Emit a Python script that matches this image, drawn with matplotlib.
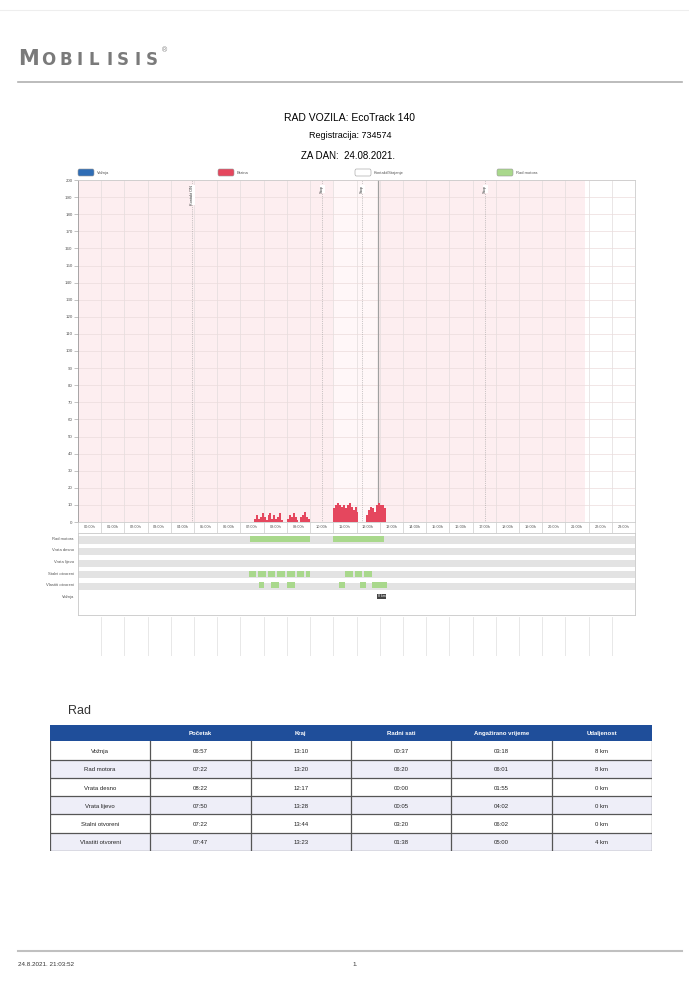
import matplotlib
matplotlib.use('Agg')
import matplotlib.pyplot as plt
from matplotlib.patches import Rectangle, FancyBboxPatch

plt.rcParams['font.family'] = ['Liberation Sans', 'DejaVu Sans']

# podaci o brzini (vrijeme, km/h)
speed_t1 = ['07:35', '07:40', '07:45', '07:50', '07:55', '08:00', '08:05', '08:10', '08:15', '08:20',
            '08:25', '08:30', '08:35', '08:40', '08:45', '08:50', '08:55', '09:00', '09:05', '09:10',
            '09:15', '09:20', '09:25', '09:30', '09:35', '09:40', '09:45', '09:50', '09:55', '10:00']
speed_v1 = [2, 4, 2, 3, 5, 3, 1, 4, 5, 2, 4, 2, 3, 5, 1, 0, 0, 2, 4, 3, 5, 3, 1, 0, 3, 4, 6, 3, 2, 0]
speed_t2 = ['11:00', '11:05', '11:10', '11:15', '11:20', '11:25', '11:30', '11:35', '11:40', '11:45',
            '11:50', '11:55', '12:00', '12:05']
speed_v2 = [8, 10, 11, 10, 9, 10, 8, 10, 11, 9, 7, 9, 6, 0]
speed_t3 = ['12:25', '12:30', '12:35', '12:40', '12:45', '12:50', '12:55', '13:00', '13:05', '13:10', '13:15']
speed_v3 = [4, 7, 9, 8, 6, 10, 11, 10, 10, 8, 0]

# oznake događaja
event_times = ['04:55', '10:31', '12:15', '17:33']
event_labels = ['Kontakt ON', 'Stop', 'Stop', 'Stop']
current_time = '12:56'
data_end = '21:50'

y_ticks = list(range(0, 201, 10))
hours = list(range(24))

# digitalni ulazi
row_names = ['Rad motora', 'Vrata desno', 'Vrata lijevo', 'Stalni otvoreni', 'Vlastiti otvoreni', 'Vožnja']
row_on = [
    [('07:25', '10:00'), ('11:00', '13:10')],
    [],
    [],
    [('07:22', '07:40'), ('07:45', '08:05'), ('08:10', '08:30'), ('08:35', '08:55'), ('09:00', '09:20'),
     ('09:25', '09:45'), ('09:50', '10:00'), ('11:30', '11:50'), ('11:55', '12:15'), ('12:20', '12:40')],
    [('07:47', '08:00'), ('08:20', '08:40'), ('09:00', '09:20'), ('11:15', '11:30'), ('12:10', '12:25'),
     ('12:40', '13:20')],
    [],
]
distance_label = '8 km'
distance_time = '13:05'

# tablica "Rad"
tbl_cols = ['', 'Početak', 'Kraj', 'Radni sati', 'Angažirano vrijeme', 'Udaljenost']
tbl_rows = ['Vožnja', 'Rad motora', 'Vrata desno', 'Vrata lijevo', 'Stalni otvoreni', 'Vlastiti otvoreni']
tbl_start = ['06:57', '07:22', '08:22', '07:50', '07:22', '07:47']
tbl_end = ['13:10', '13:20', '12:17', '13:28', '13:44', '13:23']
tbl_work = ['00:37', '06:20', '00:00', '00:05', '03:20', '01:38']
tbl_busy = ['03:18', '06:01', '01:55', '04:02', '06:02', '05:00']
tbl_dist = ['8 km', '8 km', '0 km', '0 km', '0 km', '4 km']


def h(s):
    hh, mm = s.split(':')
    return int(hh) + int(mm) / 60.0


W, H = 689, 990


def rect(x0, y0, x1, y1):
    return [x0 / W, 1 - y1 / H, (x1 - x0) / W, (y1 - y0) / H]


fig = plt.figure(figsize=(6.89, 9.9), dpi=100)

# zaglavlje
fig.add_artist(plt.Line2D([18 / W, 682 / W], [1 - 82 / H] * 2, color='#b0b0b0', lw=1.2))
fig.add_artist(plt.Line2D([0, 1], [1 - 10 / H] * 2, color='#eeeeee', lw=0.8))
fig.text(18 / W, 1 - 59 / H, 'M', fontsize=15, color='#7a7a7a', fontweight='bold',
         family='DejaVu Sans', va='center')
logo_x = 41
for ch in 'OBILISIS':
    fig.text(logo_x / W, 1 - 60 / H, ch, fontsize=12, color='#7a7a7a', fontweight='bold',
             family='DejaVu Sans', va='center')
    logo_x += 11 if ch == 'I' else 18
fig.text(162 / W, 1 - 51 / H, '®', fontsize=5, color='#7a7a7a', va='center')

fig.text(350 / W, 1 - 118 / H, 'RAD VOZILA: EcoTrack 140', fontsize=7.5, ha='center', va='center')
fig.text(350 / W, 1 - 136 / H, 'Registracija: 734574', fontsize=6.5, ha='center', va='center')
fig.text(348 / W, 1 - 156 / H, 'ZA DAN:  24.08.2021.', fontsize=7, ha='center', va='center')

# legenda
leg = [(78, '#2f6db5', 'Vožnja'), (218, '#e5475e', 'Brzina'), (355, 'white', 'Kontakt/Stajanje'),
       (497, '#a9d88c', 'Rad motora')]
for lx, lc, lt in leg:
    fig.add_artist(FancyBboxPatch((lx / W, 1 - 176 / H), 16 / W, 7 / H,
                                  boxstyle='round,pad=0,rounding_size=0.002',
                                  fc=lc, ec='#999999', lw=0.4, transform=fig.transFigure))
    fig.text((lx + 19) / W, 1 - 172.5 / H, lt, fontsize=3, color='#555555', va='center')

# glavni graf brzine
ax = fig.add_axes(rect(78, 180, 635, 522))
ax.set_xlim(0, 24)
ax.set_ylim(0, 200)
ax.axvspan(0, h(data_end), color='#fdeef0', zorder=0, lw=0)
ax.axvspan(h(speed_t2[0]), h(current_time), color='#fff7f8', zorder=0, lw=0)
for hr in hours[1:]:
    ax.axvline(hr, color='#e2dcdc', lw=0.5, zorder=1)
for yt in y_ticks[1:]:
    ax.axhline(yt, color='#ebdcdc', lw=0.5, zorder=1)
for st, sv in [(speed_t1, speed_v1), (speed_t2, speed_v2), (speed_t3, speed_v3)]:
    ax.fill_between([h(t) for t in st], sv, step='post', color='#e5475e', lw=0, zorder=3)
for et, el in zip(event_times, event_labels):
    ax.axvline(h(et), color='#9a9a9a', lw=0.5, ls=':', zorder=2)
    ax.text(h(et), 197, el, rotation=90, fontsize=2.8, ha='center', va='top', color='#333333',
            bbox=dict(fc='white', ec='none', pad=0.3))
ax.axvline(h(current_time), color='#a0a0a0', lw=0.9, zorder=2)
ax.set_yticks(y_ticks)
ax.set_yticklabels([str(v) for v in y_ticks], fontsize=3.2, color='#555555')
ax.set_xticks(hours + [24])
ax.set_xticklabels([])
ax.set_xticks([hr + 0.5 for hr in hours], minor=True)
ax.set_xticklabels(['%02d:00h' % hr for hr in hours], minor=True, fontsize=2.8, color='#555555')
ax.tick_params(axis='x', which='minor', length=0, pad=2)
ax.tick_params(axis='x', which='major', length=8, color='#cccccc', width=0.5)
ax.tick_params(axis='y', length=3, color='#aaaaaa', width=0.5, pad=1)
for s in ax.spines.values():
    s.set_color('#cccccc')
    s.set_linewidth(0.6)
ax.spines['left'].set_color('#999999')

# digitalni ulazi
ax2 = fig.add_axes(rect(78, 533, 635, 615))
ax2.set_xlim(0, 24)
ax2.set_ylim(6.6, -0.45)
for i, name in enumerate(row_names):
    if i < len(row_names) - 1:
        ax2.barh(i + 0.15, 24, left=0, height=0.62, color='#e3e3e3', lw=0, zorder=1)
    for a, b in row_on[i]:
        ax2.barh(i + 0.05, h(b) - h(a), left=h(a), height=0.5, color='#a9d88c', lw=0, zorder=2)
ax2.text(h(distance_time), 5.0, distance_label, fontsize=2.5, color='white', ha='center', va='center',
         bbox=dict(fc='#444444', ec='none', pad=0.4))
ax2.set_yticks(range(len(row_names)))
ax2.set_yticklabels(row_names, fontsize=3, color='#555555')
ax2.set_xticks([])
ax2.tick_params(axis='y', length=0, pad=3)
for s in ax2.spines.values():
    s.set_color('#c8c8c8')
    s.set_linewidth(0.6)

# mreža ispod
ax3 = fig.add_axes(rect(78, 617, 635, 656))
ax3.set_xlim(0, 24)
ax3.set_ylim(0, 1)
for hr in hours[1:] + [24]:
    ax3.axvline(hr, color='#e4e4e4', lw=0.6)
ax3.axis('off')

# tablica
fig.text(68 / W, 1 - 711 / H, 'Rad', fontsize=9, color='#333333', va='center')
axt = fig.add_axes(rect(50, 725, 652, 851))
axt.set_xlim(0, 6)
axt.set_ylim(6.9, 0)
axt.axis('off')
axt.add_patch(Rectangle((0, 0), 6, 0.9, fc='#1f4e9a', ec='none'))
for j, c in enumerate(tbl_cols):
    axt.text(j + 0.5, 0.45, c, fontsize=4.3, color='white', fontweight='bold', ha='center', va='center')
for i in range(len(tbl_rows)):
    y0 = 0.9 + i
    axt.add_patch(Rectangle((0, y0), 6, 1, fc='white' if i % 2 == 0 else '#eeeef8', ec='none'))
    vals = [tbl_rows[i], tbl_start[i], tbl_end[i], tbl_work[i], tbl_busy[i], tbl_dist[i]]
    for j, v in enumerate(vals):
        axt.text(j + 0.5, y0 + 0.55, v, fontsize=4.3, color='#222222', ha='center', va='center')
    axt.plot([0, 6], [y0 + 1, y0 + 1], color='#555555', lw=0.9)
for j in range(7):
    axt.plot([j, j], [0.9, 6.9], color='#555555', lw=0.9)

# podnožje
fig.add_artist(plt.Line2D([18 / W, 682 / W], [1 - 951 / H] * 2, color='#c0c0c0', lw=1.5))
fig.text(18 / W, 1 - 965 / H, '24.8.2021. 21:03:52', fontsize=4.5, color='#333333', va='center')
fig.text(352 / W, 1 - 965 / H, '1.', fontsize=4.5, color='#333333', va='center')

fig.savefig('out.png', dpi=100)
